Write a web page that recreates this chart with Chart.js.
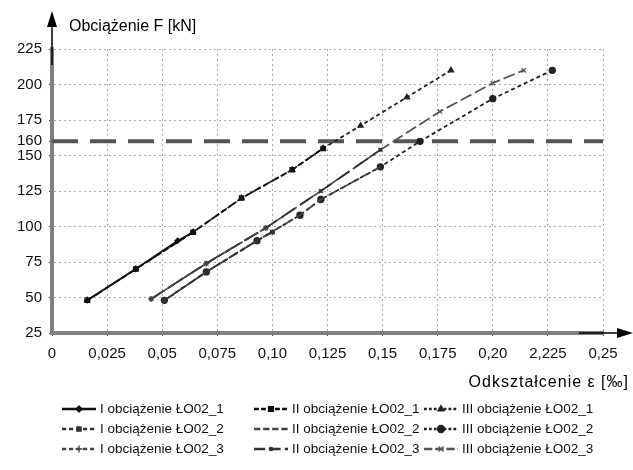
<!DOCTYPE html>
<html>
<head>
<meta charset="utf-8">
<script src="https://cdn.jsdelivr.net/npm/chart.js@4.4.1/dist/chart.umd.min.js"></script>
<style>
  html, body { margin: 0; padding: 0; background: #fff; }
  #wrap { width: 633px; height: 470px; }
</style>
</head>
<body>
<div id="wrap"><canvas id="chart" width="633" height="470"></canvas></div>
<script>
// tick labels (the "2,225" typo is in the original figure)
const xTickLabels = ['0', '0,025', '0,05', '0,075', '0,10', '0,125', '0,15', '0,175', '0,20', '2,225', '0,25'];
const yTickValues = [25, 50, 75, 100, 125, 150, 160, 175, 200, 225];

const seriesLabels = [
  'I obciążenie ŁO02_1', 'II obciążenie ŁO02_1', 'III obciążenie ŁO02_1',
  'I obciążenie ŁO02_2', 'II obciążenie ŁO02_2', 'III obciążenie ŁO02_2',
  'I obciążenie ŁO02_3', 'II obciążenie ŁO02_3', 'III obciążenie ŁO02_3'
];

// strain [‰] and load [kN]
const strainI1 = [0.016, 0.038, 0.057, 0.064];
const loadI1 = [48, 70, 90, 96];
const strainII1 = [0.016, 0.038, 0.064, 0.086, 0.109, 0.123];
const loadII1 = [48, 70, 96, 120, 140, 155];
const strainIII1 = [0.016, 0.038, 0.064, 0.086, 0.109, 0.123, 0.14, 0.161, 0.181];
const loadIII1 = [48, 70, 96, 120, 140, 155, 171, 191, 210];

const strainI2 = [0.051, 0.07, 0.093, 0.1];
const loadI2 = [48, 68, 90, 96];
const strainII2 = [0.051, 0.07, 0.093, 0.1125, 0.122, 0.149];
const loadII2 = [48, 68, 90, 108, 119, 142];
const strainIII2 = [0.051, 0.07, 0.093, 0.1125, 0.122, 0.149, 0.167, 0.2, 0.227];
const loadIII2 = [48, 68, 90, 108, 119, 142, 160, 190, 210];

const strainI3 = [0.045, 0.07, 0.097];
const loadI3 = [49, 74, 99];
const strainII3 = [0.045, 0.07, 0.097, 0.122, 0.149];
const loadII3 = [49, 74, 99, 125, 154];
const strainIII3 = [0.045, 0.07, 0.097, 0.122, 0.149, 0.176, 0.2, 0.214];
const loadIII3 = [49, 74, 99, 125, 154, 181, 201, 210];

const limitLoad = 160;
const limitStrain = [0, 0.25];

const strains = [strainI1, strainII1, strainIII1, strainI2, strainII2, strainIII2, strainI3, strainII3, strainIII3];
const loads = [loadI1, loadII1, loadIII1, loadI2, loadII2, loadIII2, loadI3, loadII3, loadIII3];

// line look per series
const styles = [
  { dash: [], point: 'rectRot', r: 2.5, color: '#111' },
  { dash: [7, 3], point: 'rect', r: 3, color: '#111' },
  { dash: [4, 3], point: 'triangle', r: 3, color: '#222' },
  { dash: [6, 4], point: 'rect', r: 2.5, color: '#333' },
  { dash: [9, 4], point: false, r: 0, color: '#444' },
  { dash: [4, 3], point: 'circle', r: 3, color: '#222' },
  { dash: [6, 4], point: 'cross', r: 3, color: '#444' },
  { dash: [16, 6], point: 'circle', r: 1.2, color: '#333' },
  { dash: [12, 4], point: 'crossRot', r: 3, color: '#555' }
];

const datasets = seriesLabels.map((label, i) => ({
  label: label,
  data: strains[i].map((x, j) => ({ x: x, y: loads[i][j] })),
  borderColor: styles[i].color,
  backgroundColor: styles[i].color,
  borderWidth: 1.8,
  borderDash: styles[i].dash,
  pointStyle: styles[i].point,
  pointRadius: styles[i].r,
  pointBorderWidth: 1.3,
  tension: 0
}));

datasets.push({
  label: 'limit',
  data: limitStrain.map(x => ({ x: x, y: limitLoad })),
  borderColor: '#555',
  borderWidth: 4,
  borderDash: [26, 12],
  pointRadius: 0,
  isLimit: true
});

const font = '"Liberation Sans", Arial, sans-serif';

const decor = {
  id: 'decor',
  afterDraw(chart) {
    const { ctx, chartArea: a } = chart;
    ctx.save();
    ctx.fillStyle = '#000';
    ctx.strokeStyle = '#000';
    ctx.lineWidth = 1.5;
    // arrow on y axis
    ctx.beginPath();
    ctx.moveTo(a.left, a.top + 16);
    ctx.lineTo(a.left, 22);
    ctx.stroke();
    ctx.beginPath();
    ctx.moveTo(a.left, 11);
    ctx.lineTo(a.left - 5, 27);
    ctx.lineTo(a.left + 5, 27);
    ctx.closePath();
    ctx.fill();
    // arrow on x axis
    ctx.beginPath();
    ctx.moveTo(a.right - 24, a.bottom);
    ctx.lineTo(620, a.bottom);
    ctx.stroke();
    ctx.beginPath();
    ctx.moveTo(633, a.bottom);
    ctx.lineTo(617, a.bottom - 5);
    ctx.lineTo(617, a.bottom + 5);
    ctx.closePath();
    ctx.fill();

    // axis titles
    ctx.font = '16px ' + font;
    ctx.textBaseline = 'middle';
    ctx.textAlign = 'left';
    ctx.fillText('Obciążenie F [kN]', 69, 27);
    ctx.textAlign = 'right';
    ctx.letterSpacing = '1px';
    ctx.fillText('Odkształcenie ε [‰]', 629, 383);
    ctx.letterSpacing = '0px';

    // legend, 3 x 3
    const colX = [62, 254, 424];
    const rowY = [409, 429, 449];
    ctx.font = '13.5px ' + font;
    ctx.textAlign = 'left';
    chart.data.datasets.forEach((ds, i) => {
      if (ds.isLimit) return;
      const x = colX[i % 3];
      const y = rowY[Math.floor(i / 3)];
      ctx.save();
      ctx.strokeStyle = ds.borderColor;
      ctx.lineWidth = 2.5;
      ctx.setLineDash(ds.borderDash.map(d => d * 0.7));
      ctx.beginPath();
      ctx.moveTo(x, y);
      ctx.lineTo(x + 34, y);
      ctx.stroke();
      ctx.restore();
      if (ds.pointStyle) {
        ctx.fillStyle = ds.backgroundColor;
        ctx.strokeStyle = ds.borderColor;
        ctx.lineWidth = 1.3;
        Chart.helpers.drawPoint(ctx, {
          pointStyle: ds.pointStyle, radius: ds.pointRadius + 0.5, borderWidth: 1.3, rotation: 0
        }, x + 17, y);
      }
      ctx.fillStyle = '#111';
      ctx.fillText(ds.label, x + 38, y);
    });
    ctx.restore();
  }
};

new Chart(document.getElementById('chart'), {
  type: 'line',
  data: { datasets: datasets },
  plugins: [decor],
  options: {
    responsive: false,
    animation: false,
    layout: { padding: { top: 49, right: 30, left: 0, bottom: 0 } },
    plugins: {
      legend: { display: false },
      tooltip: { enabled: false }
    },
    scales: {
      x: {
        type: 'linear',
        min: 0,
        max: 0.25,
        afterFit(scale) { scale.height = 137; },
        afterBuildTicks(scale) {
          scale.ticks = xTickLabels.map((t, i) => ({ value: i * 0.025 }));
        },
        ticks: {
          autoSkip: false,
          maxRotation: 0,
          padding: 9,
          color: '#111',
          font: { family: font, size: 15 },
          callback: (v, i) => xTickLabels[i]
        },
        grid: { color: '#aaa', lineWidth: 1, tickLength: 3, tickColor: '#555' },
        border: { color: '#808080', width: 4, dash: [2, 3] }
      },
      y: {
        type: 'linear',
        min: 25,
        max: 225,
        afterFit(scale) { scale.width = 52; },
        afterBuildTicks(scale) {
          scale.ticks = yTickValues.map(v => ({ value: v }));
        },
        ticks: {
          autoSkip: false,
          padding: 7,
          color: '#111',
          font: { family: font, size: 15 },
          callback: v => String(v)
        },
        grid: {
          color: c => (c.tick && c.tick.value === limitLoad) ? 'rgba(0,0,0,0)' : '#aaa',
          lineWidth: 1,
          tickLength: 3,
          tickColor: '#555'
        },
        border: { color: '#808080', width: 4, dash: [2, 3] }
      }
    }
  }
});
</script>
</body>
</html>
